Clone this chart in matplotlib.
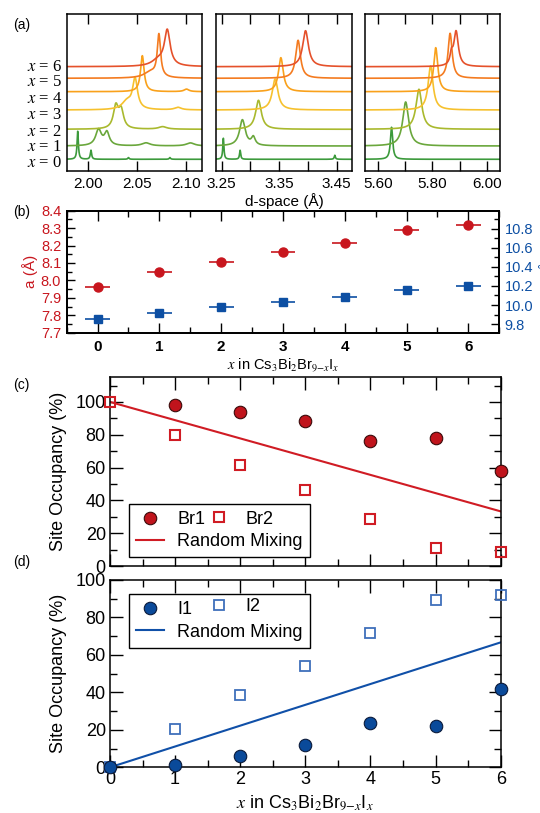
import numpy as np
import matplotlib.pyplot as plt
from matplotlib.lines import Line2D
from matplotlib.ticker import MultipleLocator, FixedLocator

plt.rcParams['font.family'] = ['Liberation Sans', 'DejaVu Sans']
plt.rcParams['mathtext.fontset'] = 'stix'

# ---- panel (a): diffraction peaks, one trace per composition x = 0..6
comp = [0, 1, 2, 3, 4, 5, 6]
offsets = [0, 13.3, 30, 49.3, 67.6, 81, 92.6]
label_y = [-4, 12.6, 27.6, 44.3, 60.3, 77, 92.6]
trace_colors = ['#3c9a3c', '#6aa73c', '#a9b92e', '#f6c12e', '#f9a11b', '#f47b20', '#e5512b']

# (centre d, height, half width) of each peak
peaks_lo = [
    [(1.9899, 28, 0.0008), (2.0034, 9, 0.0008), (2.0416, 1.7, 0.0008), (2.0838, 1.7, 0.0008)],
    [(2.0111, 16, 0.0035), (2.0196, 13, 0.003), (2.0595, 3, 0.005), (2.1047, 3, 0.005)],
    [(2.0287, 22, 0.003), (2.0341, 18, 0.003), (2.0764, 2.5, 0.005)],
    [(2.0483, 30, 0.003), (2.0400, 8, 0.006), (2.092, 2.5, 0.004)],
    [(2.0557, 36, 0.0022), (2.1007, 2.5, 0.003)],
    [(2.0726, 42, 0.002), (2.0640, 6, 0.008)],
    [(2.0811, 35, 0.0035), (2.0720, 6, 0.008)],
]
peaks_mid = [
    [(3.2528, 21, 0.0012), (3.282, 9, 0.0012), (3.447, 4, 0.0012)],
    [(3.286, 26, 0.006), (3.305, 8, 0.004)],
    [(3.314, 29, 0.006)],
    [(3.343, 31, 0.006)],
    [(3.353, 34, 0.005)],
    [(3.383, 38, 0.005)],
    [(3.396, 36, 0.006)],
]
peaks_hi = [
    [(5.649, 32, 0.005)],
    [(5.701, 44, 0.013)],
    [(5.750, 40, 0.013)],
    [(5.793, 44, 0.011)],
    [(5.812, 44, 0.009)],
    [(5.865, 45, 0.009)],
    [(5.887, 35, 0.010), (5.870, 10, 0.006)],
]
d_ranges = [(1.979, 2.1165), (3.240, 3.477), (5.551, 6.049)]
d_major = [[2.00, 2.05, 2.10], [3.25, 3.35, 3.45], [5.60, 5.80, 6.00]]
d_minor = [[], [3.30, 3.40], [5.70, 5.90]]

# ---- panel (b): lattice parameters
lat_x = [0, 1, 2, 3, 4, 5, 6]
lat_a = [7.961, 8.047, 8.107, 8.161, 8.213, 8.287, 8.315]
lat_c = [9.855, 9.92, 9.98, 10.03, 10.08, 10.16, 10.20]
lat_xerr = 0.2

# ---- panel (c),(d): site occupancy (%)
br1_x = [1, 2, 3, 4, 5, 6]
br1 = [98.4, 93.9, 88.2, 76.2, 78.0, 58.1]
br2_x = [0, 1, 2, 3, 4, 5, 6]
br2 = [100, 79.6, 61.5, 46.1, 28.6, 11.0, 8.4]
i1_x = [0, 1, 2, 3, 4, 5, 6]
i1 = [0, 1.4, 5.9, 11.7, 23.6, 22.0, 41.8]
i2_x = [0, 1, 2, 3, 4, 5, 6]
i2 = [0, 20.6, 38.5, 54.3, 71.7, 89.5, 92.0]
mix_x = [0, 6]
mix_br = [100, 33.3]
mix_i = [0, 66.7]

RED = '#c8161e'
BLUE = '#0d4fa3'
LBLUE = '#3f6fbb'

fig = plt.figure(figsize=(5.4, 8.13), dpi=100)

# ---------- (a)
a_rects = [[0.1241, 0.7897, 0.2500, 0.1931],
           [0.4000, 0.7897, 0.2519, 0.1931],
           [0.6759, 0.7897, 0.2500, 0.1931]]
all_peaks = [peaks_lo, peaks_mid, peaks_hi]
for p, rect in enumerate(a_rects):
    ax = fig.add_axes(rect)
    d = np.linspace(d_ranges[p][0], d_ranges[p][1], 2000)
    for k in range(len(comp)):
        y = np.full_like(d, offsets[k])
        for c, h, w in all_peaks[p][k]:
            y += h / (1 + ((d - c) / w) ** 2)
        ax.plot(d, y, color=trace_colors[k], lw=1.2)
    ax.set_xlim(*d_ranges[p])
    ax.set_ylim(-11.7, 145.3)
    ax.set_yticks([])
    ax.xaxis.set_major_locator(FixedLocator(d_major[p]))
    ax.xaxis.set_minor_locator(FixedLocator(d_minor[p]))
    ax.set_xticklabels(['%.2f' % v for v in d_major[p]])
    ax.tick_params(axis='x', which='both', direction='in', top=True, length=7, width=1, labelsize=11, pad=4)
    for s in ax.spines.values():
        s.set_linewidth(1.1)
    if p == 0:
        for k in range(len(comp)):
            ax.text(-0.035, label_y[k], '$x$ = %d' % comp[k], transform=ax.get_yaxis_transform(),
                    ha='right', va='center', fontsize=12, family='Liberation Serif')
    if p == 1:
        ax.set_xlabel('d-space (Å)', fontsize=11, labelpad=2)

# ---------- (b)
axb = fig.add_axes([0.1235, 0.5908, 0.8011, 0.1501])
axc2 = axb.twinx()
axb.errorbar(lat_x, lat_a, xerr=lat_xerr, fmt='o', color=RED, ms=6.5, elinewidth=1.2, capsize=0, zorder=3)
axc2.errorbar(lat_x, lat_c, xerr=lat_xerr, fmt='s', color=BLUE, ms=6, elinewidth=1.2, capsize=0, zorder=3)
axb.set_xlim(-0.5, 6.5)
axb.set_ylim(7.7, 8.4)
axc2.set_ylim(9.71, 10.99)
axb.xaxis.set_major_locator(MultipleLocator(1))
axb.xaxis.set_minor_locator(MultipleLocator(0.5))
axb.yaxis.set_major_locator(MultipleLocator(0.1))
axb.yaxis.set_minor_locator(MultipleLocator(0.05))
axc2.yaxis.set_major_locator(MultipleLocator(0.2))
axc2.yaxis.set_minor_locator(MultipleLocator(0.1))
axb.yaxis.set_major_formatter('{x:.1f}')
axc2.yaxis.set_major_formatter('{x:.1f}')
axb.tick_params(axis='x', which='major', direction='in', top=True, length=7, width=1, labelsize=11, pad=5)
axb.tick_params(axis='x', which='minor', direction='in', top=True, length=4, width=1)
axb.tick_params(axis='y', which='major', direction='in', length=6, width=1, labelsize=10.5, labelcolor=RED, pad=4)
axb.tick_params(axis='y', which='minor', direction='in', length=3.5, width=1)
axc2.tick_params(axis='y', which='major', direction='in', length=6, width=1, labelsize=10.5, labelcolor=BLUE, pad=4)
axc2.tick_params(axis='y', which='minor', direction='in', length=3.5, width=1)
for lab in axb.get_xticklabels():
    lab.set_fontweight('bold')
axb.set_ylabel('a (Å)', color=RED, fontsize=11, labelpad=2)
axc2.set_ylabel('c (Å)', color=BLUE, fontsize=11, labelpad=4)
axb.set_xlabel(r'$x$ in Cs$_3$Bi$_2$Br$_{9\mathrm{-}x}$I$_x$', fontsize=10.5, labelpad=2)
for s in list(axb.spines.values()) + list(axc2.spines.values()):
    s.set_linewidth(1.3)


def occ_axes(rect):
    ax = fig.add_axes(rect)
    ax.set_xlim(0, 6)
    ax.xaxis.set_major_locator(MultipleLocator(1))
    ax.xaxis.set_minor_locator(MultipleLocator(0.5))
    ax.yaxis.set_major_locator(MultipleLocator(20))
    ax.yaxis.set_minor_locator(MultipleLocator(10))
    ax.tick_params(which='major', direction='in', top=True, right=True, length=9, width=1, labelsize=13, pad=3)
    ax.tick_params(which='minor', direction='in', top=True, right=True, length=5, width=1)
    for s in ax.spines.values():
        s.set_linewidth(1.1)
    ax.set_ylabel('Site Occupancy (%)', fontsize=13, labelpad=6)
    return ax


# ---------- (c)
axc = occ_axes([0.2037, 0.3038, 0.7235, 0.2321])
axc.set_ylim(0, 115)
axc.plot(mix_x, mix_br, color='#d01c24', lw=1.5, zorder=2)
axc.plot(br1_x, br1, 'o', ms=9, mfc='#c0141c', mec='#3a0a0a', mew=0.8, clip_on=False, zorder=4)
axc.plot(br2_x, br2, 's', ms=7.5, mfc='none', mec='#d01c24', mew=1.5, clip_on=False, zorder=4)
axc.tick_params(axis='x', labelbottom=False)

h_br1 = Line2D([], [], marker='o', ls='none', ms=9, mfc='#c0141c', mec='#3a0a0a', mew=0.8)
h_br2 = Line2D([], [], marker='s', ls='none', ms=7.5, mfc='none', mec='#d01c24', mew=1.5)
h_mixr = Line2D([], [], color='#d01c24', lw=1.5)
leg = axc.legend([h_br1, h_mixr], ['Br1', 'Random Mixing'], loc='lower left',
                 bbox_to_anchor=(0.048, 0.046), borderaxespad=0, fontsize=13, borderpad=0.38,
                 handlelength=1.56, handletextpad=0.75, labelspacing=0.3, fancybox=False,
                 edgecolor='black', framealpha=1)
leg.get_frame().set_linewidth(1.0)
axc.add_artist(leg)
axc.legend([h_br2], ['Br2'], loc='center left', bbox_to_anchor=(0.255, 0.249), borderaxespad=0,
           fontsize=13, borderpad=0, handlelength=1, handletextpad=1.0, frameon=False)

# ---------- (d)
axd = occ_axes([0.2037, 0.0562, 0.7235, 0.2304])
axd.set_ylim(0, 100)
axd.plot(mix_x, mix_i, color='#1050a8', lw=1.5, zorder=2)
axd.plot(i2_x, i2, 's', ms=7.5, mfc='none', mec=LBLUE, mew=1.3, clip_on=False, zorder=4)
axd.plot(i1_x, i1, 'o', ms=9, mfc='#0a4a9a', mec='#0a1a3a', mew=0.8, clip_on=False, zorder=4)
axd.set_xlabel(r'$x$ in Cs$_3$Bi$_2$Br$_{9\mathrm{-}x}$I$_x$', fontsize=13, labelpad=3)

h_i1 = Line2D([], [], marker='o', ls='none', ms=9, mfc='#0a4a9a', mec='#0a1a3a', mew=0.8)
h_i2 = Line2D([], [], marker='s', ls='none', ms=7.5, mfc='none', mec=LBLUE, mew=1.3)
h_mixi = Line2D([], [], color='#1050a8', lw=1.5)
leg = axd.legend([h_i1, h_mixi], ['I1', 'Random Mixing'], loc='upper left',
                 bbox_to_anchor=(0.048, 0.9226), borderaxespad=0, fontsize=13, borderpad=0.38,
                 handlelength=1.56, handletextpad=0.75, labelspacing=0.3, fancybox=False,
                 edgecolor='black', framealpha=1)
leg.get_frame().set_linewidth(1.0)
axd.add_artist(leg)
axd.legend([h_i2], ['I2'], loc='center left', bbox_to_anchor=(0.255, 0.8575), borderaxespad=0,
           fontsize=13, borderpad=0, handlelength=1, handletextpad=1.0, frameon=False)

# panel letters
for lab, ypx in [('(a)', 25), ('(b)', 212), ('(c)', 385), ('(d)', 562)]:
    fig.text(13 / 540, 1 - ypx / 813, lab, fontsize=10, ha='left', va='center')

fig.savefig('out.png', dpi=100)
